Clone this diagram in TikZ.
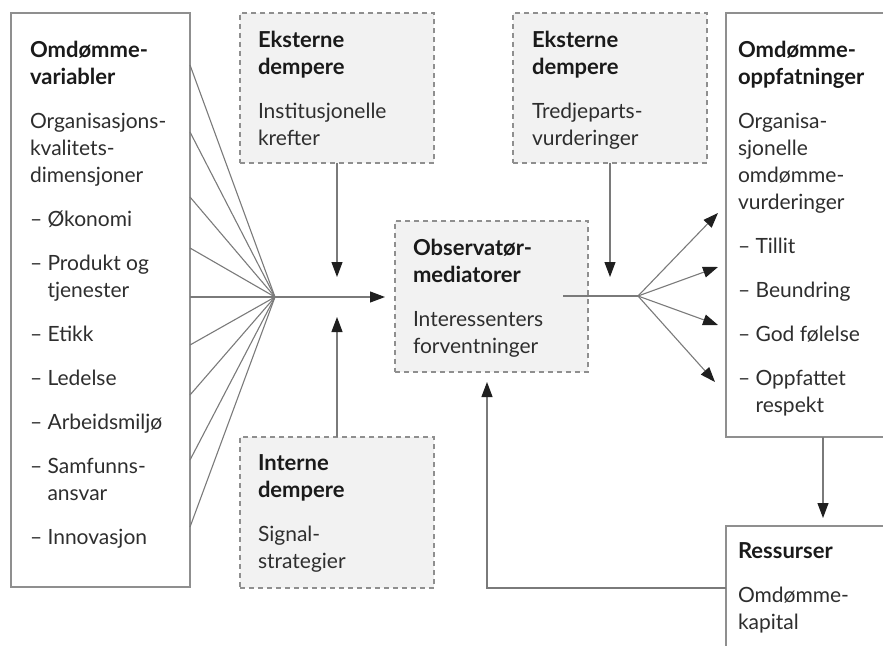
\documentclass[tikz,border=0pt]{standalone}
\usepackage{fontspec}
\setmainfont{Lato}
\usetikzlibrary{arrows.meta}
\definecolor{txt}{HTML}{2E2E2E}
\definecolor{hd}{HTML}{1A1A1A}
\definecolor{lnc}{HTML}{7A7A7A}
\definecolor{bx}{HTML}{8F8F8F}
\definecolor{dfill}{HTML}{F2F2F2}
\newcommand\Tl[1]{\hbox{#1}}
\newcommand\Hd[1]{\hbox{\fontsize{22}{27}\selectfont\bfseries\color{hd}#1}}
\newcommand\Gp{\vskip17pt}
\newcommand\Ind{\phantom{– }}
\tikzset{
  solidbox/.style={draw=bx, line width=1.2pt, fill=white, anchor=north west, inner sep=0pt, outer sep=0pt},
  dashbox/.style={draw=bx, line width=1.1pt, dash pattern=on 5pt off 4pt, fill=dfill, anchor=north west, inner sep=0pt, outer sep=0pt},
  txtnode/.style={anchor=base west, inner sep=0pt, outer sep=0pt, text=txt},
  conn/.style={draw=lnc, line width=1.1pt},
  arr/.style={draw=lnc, line width=1.1pt, -{Triangle[length=15pt,width=11pt,color=black!88]}}
}
\begin{document}
\begin{tikzpicture}[x=1pt,y=-1pt,font=\fontsize{21}{27}\selectfont]
\useasboundingbox (0,0) rectangle (883,645);
\clip (0,0) rectangle (883,645);
% boxes
\node[solidbox, minimum width=179pt, minimum height=574pt] (lbox) at (11,13) {};
\node[dashbox, minimum width=194pt, minimum height=150pt] (tlb) at (240,13) {};
\node[dashbox, minimum width=194pt, minimum height=151pt] (blb) at (240,437) {};
\node[dashbox, minimum width=193pt, minimum height=151pt] (obs) at (395,221) {};
\node[dashbox, minimum width=194pt, minimum height=150pt] (trb) at (513,13) {};
\node[solidbox, minimum width=170pt, minimum height=424pt] (rbox) at (726,13) {};
\node[solidbox, minimum width=170pt, minimum height=140pt] (res) at (726,526) {};
% texts
\node[txtnode] (lt) at (30,57) {\vtop{\Hd{Omdømme-}\Hd{variabler}\Gp
  \Tl{Organisasjons-}\Tl{kvalitets-}\Tl{dimensjoner}\Gp
  \Tl{– Økonomi}\Gp
  \Tl{– Produkt og}\Tl{\Ind tjenester}\Gp
  \Tl{– Etikk}\Gp
  \Tl{– Ledelse}\Gp
  \Tl{– Arbeidsmiljø}\Gp
  \Tl{– Samfunns-}\Tl{\Ind ansvar}\Gp
  \Tl{– Innovasjon}}};
\node[txtnode] (tlt) at (258,47) {\vtop{\Hd{Eksterne}\Hd{dempere}\Gp\Tl{Institusjonelle}\Tl{krefter}}};
\node[txtnode] (trt) at (532,47) {\vtop{\Hd{Eksterne}\Hd{dempere}\Gp\Tl{Tredjeparts-}\Tl{vurderinger}}};
\node[txtnode] (ot) at (413,255) {\vtop{\Hd{Observatør-}\Hd{mediatorer}\Gp\Tl{Interessenters}\Tl{forventninger}}};
\node[txtnode] (blt) at (258,470) {\vtop{\Hd{Interne}\Hd{dempere}\Gp\Tl{Signal-}\Tl{strategier}}};
\node[txtnode] (rt) at (738,57) {\vtop{\Hd{Omdømme-}\Hd{oppfatninger}\Gp
  \Tl{Organisa-}\Tl{sjonelle}\Tl{omdømme-}\Tl{vurderinger}\Gp
  \Tl{– Tillit}\Gp
  \Tl{– Beundring}\Gp
  \Tl{– God følelse}\Gp
  \Tl{– Oppfattet}\Tl{\Ind respekt}}};
\node[txtnode] (rst) at (738,558) {\vtop{\Hd{Ressurser}\Gp\Tl{Omdømme-}\Tl{kapital}}};
% left fan
\coordinate (lc) at (275,297);
\foreach \yy in {65,132,197,248,297,345,395,460,527}
  \draw[conn] (lbox.east |- 0,\yy) -- (lc);
\coordinate (t1) at (385,297);
\draw[arr] (lc) -- (t1);
% vertical dampers
\coordinate (t2) at (337,277);
\draw[arr] (tlb.south) -- (t2);
\coordinate (t3) at (337,317);
\draw[arr] (blb.north) -- (t3);
\coordinate (s4) at (610,163);
\coordinate (t4) at (610,277);
\draw[arr] (s4) -- (t4);
% right fan
\coordinate (os) at (563,296);
\coordinate (rc) at (638,296);
\draw[conn] (os) -- (rc);
\coordinate (f1) at (718,213);
\coordinate (f2) at (718,267);
\coordinate (f3) at (718,325);
\coordinate (f4) at (715,382);
\foreach \ff in {f1,f2,f3,f4}
  \draw[arr] (rc) -- (\ff);
% down to resources
\coordinate (d1) at (823,437);
\coordinate (d2) at (823,518);
\draw[arr] (d1) -- (d2);
% feedback
\coordinate (fb1) at (726,588);
\coordinate (fb2) at (487,382);
\draw[arr] (fb1) -| (fb2);
\end{tikzpicture}
\end{document}
